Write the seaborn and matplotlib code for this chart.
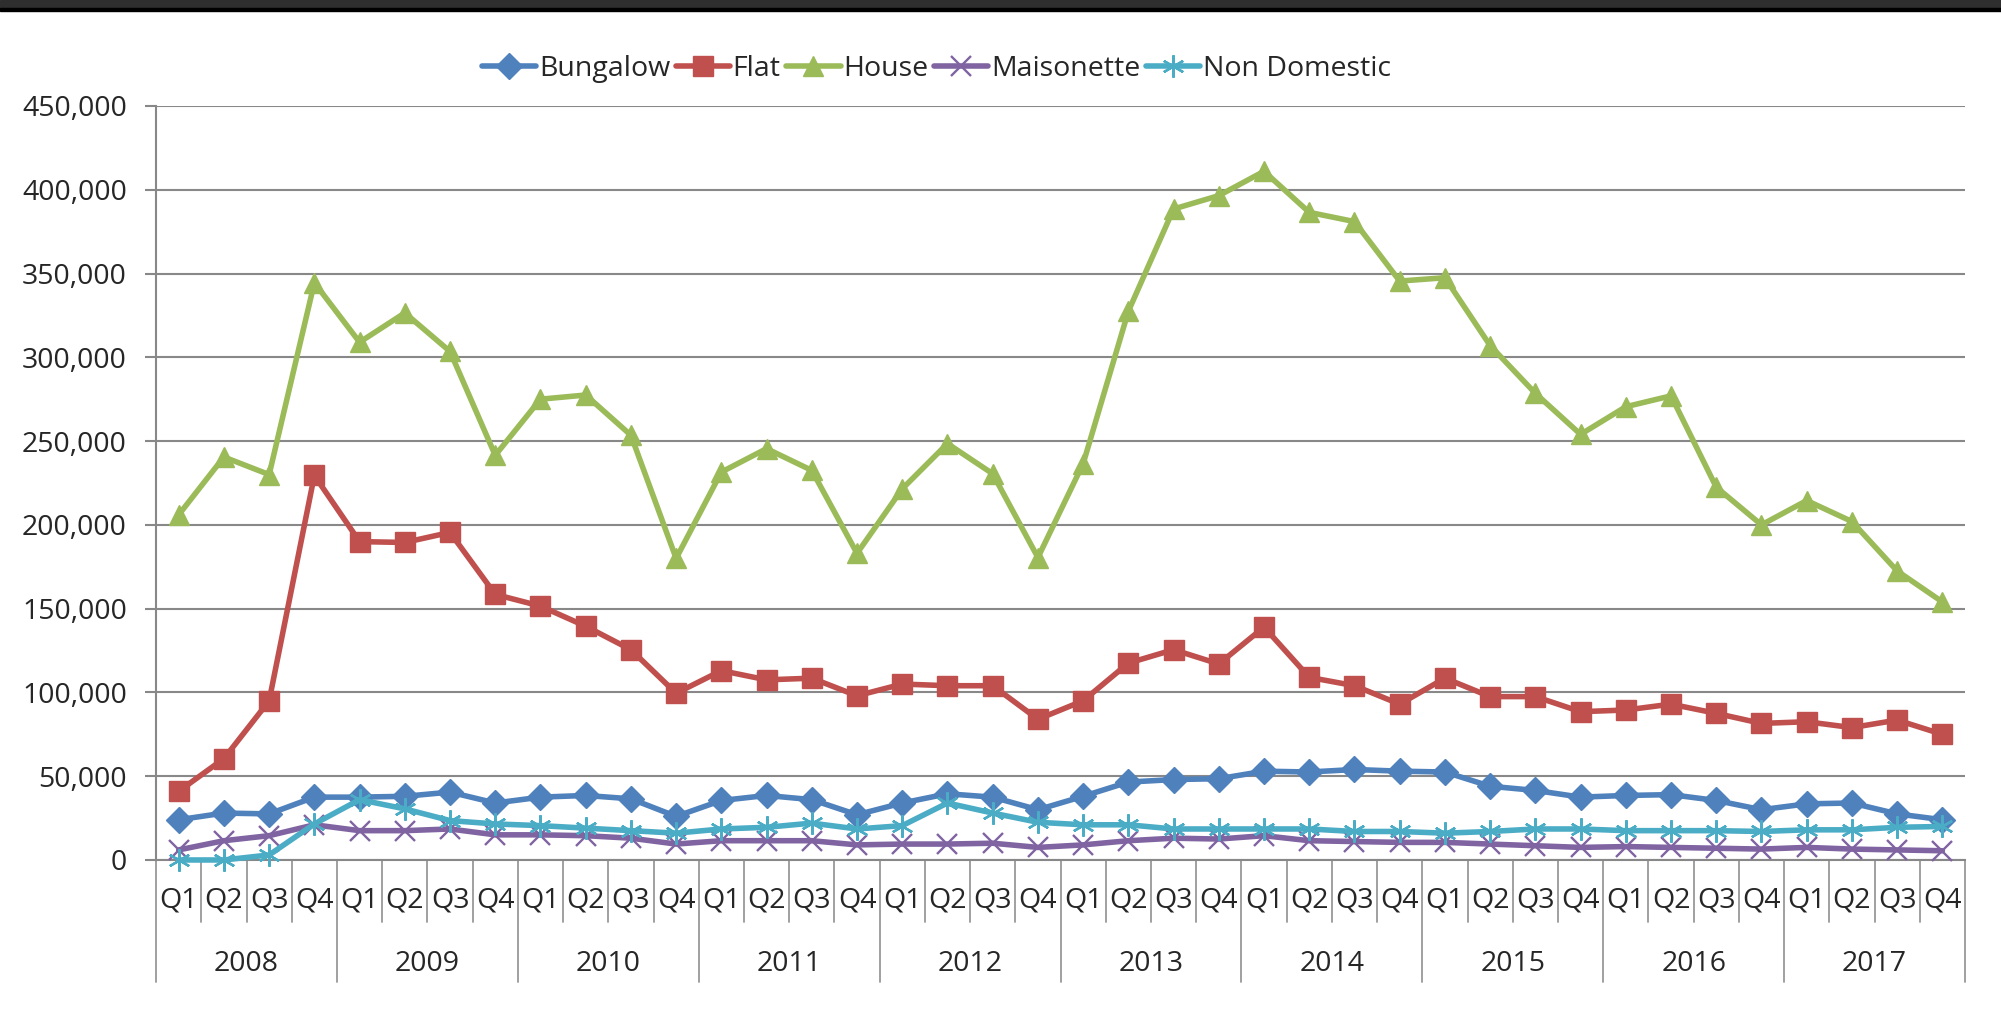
import matplotlib
matplotlib.use("Agg")
import matplotlib.pyplot as plt
import matplotlib.ticker as mticker
import pandas as pd
import seaborn as sns

years = ["2008", "2009", "2010", "2011", "2012", "2013", "2014", "2015", "2016", "2017"]
quarters = ["Q1", "Q2", "Q3", "Q4"]

bungalow = [24000, 28000, 27500, 37500, 37500, 38000, 40500, 34000,
            37500, 38500, 36500, 26000, 35500, 38500, 36000, 27000,
            34000, 39500, 37500, 30000, 38000, 46500, 48000, 48500,
            53000, 52500, 54000, 53000, 52500, 44000, 41500, 37500,
            38500, 39000, 35500, 30000, 33500, 34000, 27500, 24000]
flat = [41000, 60500, 95000, 229500, 190000, 189500, 195500, 158500,
        151500, 139500, 125500, 99500, 113000, 107500, 108500, 98000,
        105000, 104000, 104000, 84000, 95000, 117500, 125500, 117000,
        139000, 109000, 104000, 93000, 108500, 97500, 97500, 88500,
        89500, 93000, 87500, 81500, 82500, 79000, 83500, 75000]
house = [206000, 240500, 230000, 344500, 309000, 326500, 303500, 241500,
         275000, 277500, 253500, 180000, 231500, 245500, 232500, 183000,
         221500, 248500, 230500, 180500, 236500, 327500, 388500, 396500,
         411000, 386500, 381000, 345500, 347500, 307000, 278500, 254000,
         270500, 277000, 222500, 200000, 214500, 202000, 172500, 154000]
maisonette = [6000, 11500, 14500, 21000, 17500, 17500, 18500, 15000,
              15000, 14500, 13000, 9500, 11500, 11500, 11500, 9000,
              9500, 9500, 10000, 7500, 9000, 11500, 13000, 12500,
              14500, 11500, 11000, 10500, 10500, 9500, 8500, 7500,
              8000, 7500, 7000, 6500, 7500, 6500, 6000, 5500]
non_domestic = [0, 0, 3000, 21500, 36000, 30500, 23500, 21500,
                20500, 19000, 17500, 16000, 18500, 19500, 22000, 18500,
                20500, 34000, 28000, 22500, 21000, 21000, 18500, 18500,
                18500, 18500, 17000, 17000, 16000, 17000, 18500, 18500,
                17500, 17500, 17500, 17000, 18000, 18000, 19500, 20000]

series = {"Bungalow": bungalow, "Flat": flat, "House": house,
          "Maisonette": maisonette, "Non Domestic": non_domestic}
colors = {"Bungalow": "#4F81BD", "Flat": "#C0504D", "House": "#9BBB59",
          "Maisonette": "#8064A2", "Non Domestic": "#4BACC6"}
markers = {"Bungalow": "D", "Flat": "s", "House": "^",
           "Maisonette": "x", "Non Domestic": (6, 2, 0)}
msizes = {"Bungalow": 13.5, "Flat": 14, "House": 15, "Maisonette": 15, "Non Domestic": 16}

n = len(years) * len(quarters)
qlabels = [q for y in years for q in quarters]

sns.set_style("white")
plt.rcParams["font.family"] = ["Open Sans", "DejaVu Sans"]
plt.rcParams["font.size"] = 20.5
fs = 20.5

fig = plt.figure(figsize=(20.01, 10.17), dpi=100)
ax = fig.add_axes([0.078, 0.1544, 0.904, 0.7414])

for name, vals in series.items():
    c = colors[name]
    sns.lineplot(x=list(range(n)), y=vals, ax=ax, color=c, linewidth=4,
                 marker=markers[name], markersize=msizes[name],
                 markeredgecolor=c, markerfacecolor=c,
                 markeredgewidth=1.7 if name in ("Maisonette", "Non Domestic") else 1,
                 label=name, clip_on=False, zorder=3)

ax.set_xlim(-0.5, n - 0.5)
ax.set_ylim(0, 450000)
ax.yaxis.set_major_locator(mticker.MultipleLocator(50000))
ax.yaxis.set_major_formatter(mticker.FuncFormatter(lambda v, p: f"{int(v):,}"))
ax.grid(axis="y", color="#888888", linewidth=1.5)
ax.set_axisbelow(True)
for s in ["top", "right"]:
    ax.spines[s].set_visible(False)
for s in ["left", "bottom"]:
    ax.spines[s].set_color("#888888")
    ax.spines[s].set_linewidth(1.5)
ax.tick_params(axis="y", left=True, length=8, width=1.5, color="#888888", pad=13, labelsize=fs)
ax.set_xticks([])
ax.set_xlabel("")
ax.set_ylabel("")

# two-level category axis
tr = ax.get_xaxis_transform()
for i in range(n + 1):
    bottom = -0.162 if i % 4 == 0 else -0.082
    ax.plot([i - 0.5, i - 0.5], [0, bottom], transform=tr, color="#999999",
            linewidth=1.3, clip_on=False)
for i, q in enumerate(qlabels):
    ax.text(i, -0.054, q, transform=tr, ha="center", va="center", fontsize=fs)
for k, y in enumerate(years):
    ax.text(4 * k + 1.5, -0.138, y, transform=tr, ha="center", va="center", fontsize=fs)

ax.get_legend().remove()
handles, labels = ax.get_legend_handles_labels()
fig.legend(handles, labels, loc="center", bbox_to_anchor=(0.468, 0.932), ncol=5,
           frameon=False, handlelength=1.9, handletextpad=0.1, columnspacing=0.2,
           fontsize=fs)

# dark strip along the top edge
fig.patches.append(plt.Rectangle((0, 0.991), 1, 0.009, transform=fig.transFigure,
                                 color="#2e2e2e", zorder=10))
fig.patches.append(plt.Rectangle((0, 0.989), 1, 0.003, transform=fig.transFigure,
                                 color="#000000", zorder=10))

fig.savefig("out.png", dpi=100)
